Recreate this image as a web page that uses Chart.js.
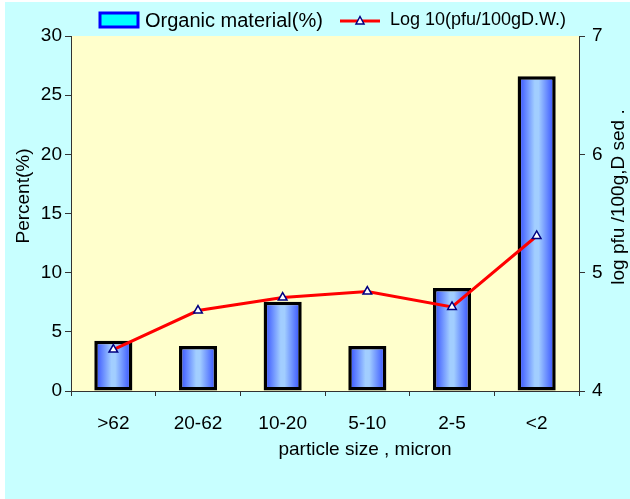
<!DOCTYPE html>
<html>
<head>
<meta charset="utf-8">
<script src="https://cdn.jsdelivr.net/npm/chart.js@4"></script>
<style>
  body { margin: 0; background: #ffffff; }
  canvas { display: block; }
</style>
</head>
<body>
<canvas id="sizeChart" width="630" height="499"></canvas>
<script>
const categories = [">62", "20-62", "10-20", "5-10", "2-5", "<2"];
const organicPct = [4.25, 3.8, 7.55, 3.8, 8.7, 26.6];
const logPfu = [4.35, 4.68, 4.79, 4.84, 4.71, 5.31];
const percentTicks = [0, 5, 10, 15, 20, 25, 30];
const logTicks = [4, 5, 6, 7];

const FONT = '"Liberation Sans", Arial, sans-serif';
const BAR_PCT = 0.45;

// bars: dark blue edges, light blue middle
function barGradient(c) {
  const chart = c.chart;
  const area = chart.chartArea;
  if (!area || c.dataIndex === undefined) return "#6699ff";
  const x = chart.scales.x;
  const cx = x.getPixelForValue(c.dataIndex);
  const w = (area.right - area.left) / categories.length * BAR_PCT;
  const g = chart.ctx.createLinearGradient(cx - w / 2, 0, cx + w / 2, 0);
  g.addColorStop(0, "#2c46ff");
  g.addColorStop(0.45, "#a2ceff");
  g.addColorStop(0.55, "#a2ceff");
  g.addColorStop(1, "#2c46ff");
  return g;
}

const decor = {
  id: "decor",
  beforeDraw(chart) {
    const ctx = chart.ctx;
    const a = chart.chartArea;
    ctx.save();
    ctx.fillStyle = "#ffffff";
    ctx.fillRect(0, 0, chart.width, chart.height);
    ctx.fillStyle = "#c8ffff";
    ctx.fillRect(5, 2, chart.width - 5, chart.height - 2);
    ctx.fillStyle = "#ffffcc";
    ctx.fillRect(a.left, a.top, a.right - a.left, a.bottom - a.top);
    ctx.restore();
  },
  afterDraw(chart) {
    const ctx = chart.ctx;
    ctx.save();
    ctx.textBaseline = "middle";

    // legend
    ctx.fillStyle = "#00ffff";
    ctx.fillRect(100, 13, 38, 14);
    ctx.strokeStyle = "#0000ff";
    ctx.lineWidth = 3;
    ctx.strokeRect(100, 13, 38, 14);
    ctx.fillStyle = "#000000";
    ctx.font = "20px " + FONT;
    ctx.textAlign = "left";
    ctx.fillText(chart.data.datasets[0].label, 145, 21);

    ctx.strokeStyle = "#ff0000";
    ctx.lineWidth = 3;
    ctx.beginPath();
    ctx.moveTo(340, 21);
    ctx.lineTo(380, 21);
    ctx.stroke();
    ctx.fillStyle = "#ffffff";
    ctx.strokeStyle = "#000080";
    ctx.lineWidth = 1.5;
    ctx.beginPath();
    ctx.moveTo(360, 16.5);
    ctx.lineTo(364, 24);
    ctx.lineTo(356, 24);
    ctx.closePath();
    ctx.fill();
    ctx.stroke();

    ctx.fillStyle = "#000000";
    ctx.font = "18px " + FONT;
    ctx.fillText(chart.data.datasets[1].label, 390, 20);

    // axis titles
    ctx.font = "19px " + FONT;
    ctx.textAlign = "center";
    ctx.fillText("particle size , micron", 365, 450);

    ctx.translate(24, 196);
    ctx.rotate(-Math.PI / 2);
    ctx.fillText("Percent(%)", 0, 0);
    ctx.setTransform(1, 0, 0, 1, 0, 0);

    ctx.translate(619, 197);
    ctx.rotate(-Math.PI / 2);
    ctx.fillText("log pfu /100g,D sed .", 0, 0);
    ctx.restore();
  },
};

const ctx = document.getElementById("sizeChart").getContext("2d");
new Chart(ctx, {
  data: {
    labels: categories,
    datasets: [
      {
        type: "bar",
        label: "Organic material(%)",
        data: organicPct,
        yAxisID: "y",
        backgroundColor: barGradient,
        borderColor: "#000000",
        borderWidth: 3.5,
        borderSkipped: false,
        barPercentage: BAR_PCT,
        categoryPercentage: 1,
        order: 1,
      },
      {
        type: "line",
        label: "Log 10(pfu/100gD.W.)",
        data: logPfu,
        yAxisID: "y2",
        borderColor: "#ff0000",
        borderWidth: 3,
        tension: 0,
        pointStyle: "triangle",
        pointRadius: 5,
        pointBackgroundColor: "#ffffff",
        pointBorderColor: "#000080",
        pointBorderWidth: 1.5,
        order: 0,
      },
    ],
  },
  options: {
    responsive: false,
    animation: false,
    layout: { padding: { top: 36, left: 0, right: 0, bottom: 0 } },
    plugins: {
      legend: { display: false },
      tooltip: { enabled: false },
    },
    scales: {
      x: {
        grid: { offset: true, drawOnChartArea: false, tickLength: 5, color: "#333333" },
        border: { color: "#333333", width: 1 },
        ticks: { color: "#000000", font: { family: FONT, size: 19 }, padding: 16, maxRotation: 0 },
        afterFit: (s) => { s.height = 108; },
      },
      y: {
        position: "left",
        min: 0,
        max: 30,
        afterBuildTicks: (s) => { s.ticks = percentTicks.map((v) => ({ value: v })); },
        grid: { drawOnChartArea: false, tickLength: 6, color: "#333333" },
        border: { color: "#333333", width: 1 },
        ticks: { color: "#000000", font: { family: FONT, size: 19 }, padding: 3 },
        afterFit: (s) => { s.width = 71; },
      },
      y2: {
        position: "right",
        min: 4,
        max: 7,
        afterBuildTicks: (s) => { s.ticks = logTicks.map((v) => ({ value: v })); },
        grid: { drawOnChartArea: false, tickLength: 6, color: "#333333" },
        border: { color: "#333333", width: 1 },
        ticks: { color: "#000000", font: { family: FONT, size: 19 }, padding: 7 },
        afterFit: (s) => { s.width = 51; },
      },
    },
  },
  plugins: [decor],
});
</script>
</body>
</html>
